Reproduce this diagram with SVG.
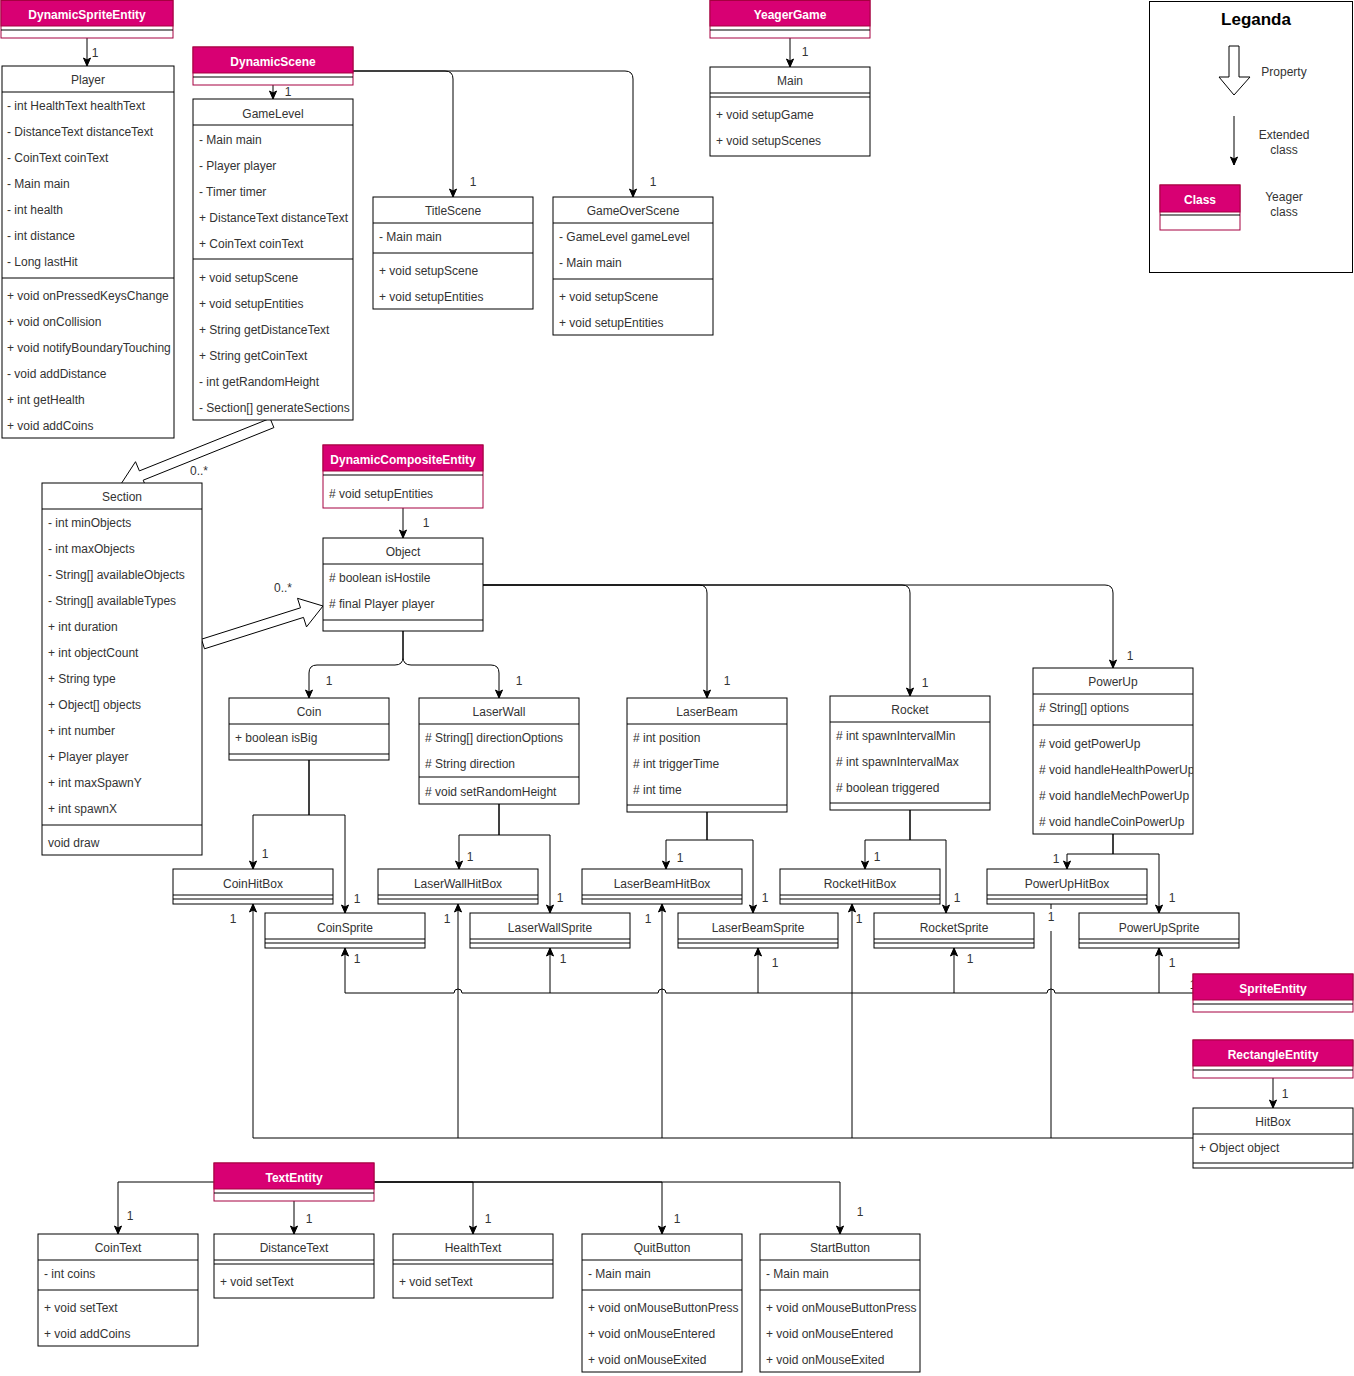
<svg xmlns="http://www.w3.org/2000/svg" width="1354" height="1376" viewBox="0 0 1354 1376">
<style>
.b{fill:#fff;stroke:#000;stroke-width:1}
.s{stroke:#000;stroke-width:1;fill:none}
.pk{fill:#d80073;stroke:#a50040;stroke-width:1}
.pb{fill:#fff;stroke:#a50040;stroke-width:1}
.t{font-family:"Liberation Sans",Arial,sans-serif;font-size:12px;fill:#333}
text{transform:translate(0px,1px)}
.c{text-anchor:middle}
.w{fill:#fff;font-weight:bold}
.e{stroke:#000;stroke-width:1;fill:none;marker-end:url(#a)}
.l{stroke:#000;stroke-width:1;fill:none}
.fa{fill:#fff;stroke:#000;stroke-width:1}
</style>
<defs>
<marker id="a" markerUnits="userSpaceOnUse" markerWidth="10" markerHeight="10" viewBox="0 0 10 10" refX="9" refY="5" orient="auto">
<path d="M1,1.5 L9,5 L1,8.5 L3,5 z" fill="#000" stroke="#000" stroke-width="1"/>
</marker>
<clipPath id="cpPU"><rect x="1033" y="668" width="160" height="166"/></clipPath>
<clipPath id="cpQB"><rect x="582" y="1234" width="160" height="138"/></clipPath>
<clipPath id="cpSB"><rect x="760" y="1234" width="160" height="138"/></clipPath>
</defs>
<rect width="1354" height="1376" fill="#fff"/>

<g id="connectors">
<path class="e" d="M87,38 V66"/>
<path class="e" d="M273,85 V99"/>
<path class="e" d="M353,71 H445 Q453,71 453,79 V197"/>
<path class="e" d="M353,71 H625 Q633,71 633,79 V197"/>
<path class="e" d="M790,38 V67"/>
<path class="e" d="M403,508 V538"/>
<path class="e" d="M403,631 V657 Q403,665 395,665 H317 Q309,665 309,673 V698"/>
<path class="e" d="M403,631 V657 Q403,665 411,665 H491 Q499,665 499,673 V698"/>
<path class="e" d="M483,585 H699 Q707,585 707,593 V698"/>
<path class="e" d="M483,585 H902 Q910,585 910,593 V696"/>
<path class="e" d="M483,585 H1105 Q1113,585 1113,593 V668"/>
<path class="e" d="M309,760 V815 H253 V869"/>
<path class="e" d="M309,760 V815 H345 V913"/>
<path class="e" d="M499,804 V835 H459 V869"/>
<path class="e" d="M499,804 V835 H550 V913"/>
<path class="e" d="M707,812 V840 H666 V869"/>
<path class="e" d="M707,812 V840 H753 V913"/>
<path class="e" d="M910,810 V840 H865 V869"/>
<path class="e" d="M910,810 V840 H946 V913"/>
<path class="e" d="M1113,834 V854 H1067 V869"/>
<path class="e" d="M1113,834 V854 H1159 V913"/>
<path class="e" d="M1193,1138 H253 V904"/>
<path class="e" d="M458,1138 V904"/>
<path class="e" d="M662,1138 V904"/>
<path class="e" d="M852,1138 V904"/>
<path class="l" d="M1051,1138 V904"/>
<path class="e" d="M1193,993 H1055 a4,4 0 0 0 -8,0 H666 a4,4 0 0 0 -8,0 H462 a4,4 0 0 0 -8,0 H345 V948"/>
<path class="e" d="M550,993 V948"/>
<path class="e" d="M758,993 V948"/>
<path class="e" d="M954,993 V948"/>
<path class="e" d="M1159,993 V948"/>
<path class="e" d="M1273,1078 V1108"/>
<path class="e" d="M214,1182 H118 V1234"/>
<path class="e" d="M294,1201 V1234"/>
<path class="e" d="M374,1182 H473 V1234"/>
<path class="e" d="M374,1182 H662 V1234"/>
<path class="e" d="M374,1182 H840 V1234"/>
<polygon class="fa" points="273.9,427.6 143.2,480.2 147.1,489.4 121,484 135.5,461.7 139.4,470.9 270.1,418.4"/>
<polygon class="fa" points="204.5,648.8 303.5,617.4 306.5,626.9 323,606 297.5,598.3 300.5,607.8 201.5,639.2"/>
</g>

<g id="labels" class="t c">
<text x="95" y="56">1</text>
<text x="288" y="95">1</text>
<text x="473" y="185">1</text>
<text x="653" y="185">1</text>
<text x="805" y="55">1</text>
<text x="426" y="526">1</text>
<text x="329" y="684">1</text>
<text x="519" y="684">1</text>
<text x="727" y="684">1</text>
<text x="925" y="686">1</text>
<text x="1130" y="659">1</text>
<text x="265" y="857">1</text>
<text x="357" y="902">1</text>
<text x="470" y="860">1</text>
<text x="560" y="901">1</text>
<text x="680" y="861">1</text>
<text x="765" y="901">1</text>
<text x="877" y="860">1</text>
<text x="957" y="901">1</text>
<text x="1056" y="862">1</text>
<text x="1172" y="901">1</text>
<text x="357" y="962">1</text>
<text x="563" y="962">1</text>
<text x="775" y="966">1</text>
<text x="970" y="962">1</text>
<text x="1172" y="966">1</text>
<text x="1193" y="988">1</text>
<text x="233" y="922">1</text>
<text x="447" y="922">1</text>
<text x="648" y="922">1</text>
<text x="859" y="922">1</text>
<rect x="1045" y="909" width="12" height="22" fill="#fff"/>
<text x="1051" y="920">1</text>
<text x="1285" y="1097">1</text>
<text x="130" y="1219">1</text>
<text x="309" y="1222">1</text>
<text x="488" y="1222">1</text>
<text x="677" y="1222">1</text>
<text x="860" y="1215">1</text>
<text x="199" y="474">0..*</text>
<text x="283" y="591">0..*</text>
</g>

<g id="DynamicSpriteEntity">
<rect class="pb" x="1" y="0.5" width="172" height="37.5"/>
<rect class="pk" x="1" y="0.5" width="172" height="25.5"/>
<line class="s" x1="1" y1="30" x2="173" y2="30"/>
<text class="t c w" x="87" y="18">DynamicSpriteEntity</text>
</g>

<g id="Player">
<rect class="b" x="2" y="66" width="172" height="372"/>
<line class="s" x1="2" y1="92" x2="174" y2="92"/>
<line class="s" x1="2" y1="278" x2="174" y2="278"/>
<text class="t c" x="88" y="83">Player</text>
<g class="t">
<text x="7" y="109">- int HealthText healthText</text>
<text x="7" y="135">- DistanceText distanceText</text>
<text x="7" y="161">- CoinText coinText</text>
<text x="7" y="187">- Main main</text>
<text x="7" y="213">- int health</text>
<text x="7" y="239">- int distance</text>
<text x="7" y="265">- Long lastHit</text>
<text x="7" y="299">+ void onPressedKeysChange</text>
<text x="7" y="325">+ void onCollision</text>
<text x="7" y="351">+ void notifyBoundaryTouching</text>
<text x="7" y="377">- void addDistance</text>
<text x="7" y="403">+ int getHealth</text>
<text x="7" y="429">+ void addCoins</text>
</g>
</g>

<g id="DynamicScene">
<rect class="pb" x="193" y="47" width="160" height="38"/>
<rect class="pk" x="193" y="47" width="160" height="26"/>
<line class="s" x1="193" y1="77" x2="353" y2="77"/>
<text class="t c w" x="273" y="65">DynamicScene</text>
</g>

<g id="GameLevel">
<rect class="b" x="193" y="99" width="160" height="321"/>
<line class="s" x1="193" y1="125" x2="353" y2="125"/>
<line class="s" x1="193" y1="259" x2="353" y2="259"/>
<text class="t c" x="273" y="117">GameLevel</text>
<g class="t">
<text x="199" y="143">- Main main</text>
<text x="199" y="169">- Player player</text>
<text x="199" y="195">- Timer timer</text>
<text x="199" y="221">+ DistanceText distanceText</text>
<text x="199" y="247">+ CoinText coinText</text>
<text x="199" y="281">+ void setupScene</text>
<text x="199" y="307">+ void setupEntities</text>
<text x="199" y="333">+ String getDistanceText</text>
<text x="199" y="359">+ String getCoinText</text>
<text x="199" y="385">- int getRandomHeight</text>
<text x="199" y="411">- Section[] generateSections</text>
</g>
</g>

<g id="TitleScene">
<rect class="b" x="373" y="197" width="160" height="112"/>
<line class="s" x1="373" y1="223" x2="533" y2="223"/>
<line class="s" x1="373" y1="253" x2="533" y2="253"/>
<text class="t c" x="453" y="214">TitleScene</text>
<g class="t">
<text x="379" y="240">- Main main</text>
<text x="379" y="274">+ void setupScene</text>
<text x="379" y="300">+ void setupEntities</text>
</g>
</g>

<g id="GameOverScene">
<rect class="b" x="553" y="197" width="160" height="138"/>
<line class="s" x1="553" y1="223" x2="713" y2="223"/>
<line class="s" x1="553" y1="279" x2="713" y2="279"/>
<text class="t c" x="633" y="214">GameOverScene</text>
<g class="t">
<text x="559" y="240">- GameLevel gameLevel</text>
<text x="559" y="266">- Main main</text>
<text x="559" y="300">+ void setupScene</text>
<text x="559" y="326">+ void setupEntities</text>
</g>
</g>

<g id="YeagerGame">
<rect class="pb" x="710" y="0.5" width="160" height="37.5"/>
<rect class="pk" x="710" y="0.5" width="160" height="25.5"/>
<line class="s" x1="710" y1="30" x2="870" y2="30"/>
<text class="t c w" x="790" y="18">YeagerGame</text>
</g>

<g id="Main">
<rect class="b" x="710" y="67" width="160" height="89"/>
<line class="s" x1="710" y1="93" x2="870" y2="93"/>
<line class="s" x1="710" y1="97" x2="870" y2="97"/>
<text class="t c" x="790" y="84">Main</text>
<g class="t">
<text x="716" y="118">+ void setupGame</text>
<text x="716" y="144">+ void setupScenes</text>
</g>
</g>

<g id="Legend">
<rect class="b" x="1149.5" y="1.5" width="203" height="271"/>
<text class="t c" x="1256" y="24" style="font-size:17px;font-weight:bold;fill:#000">Leganda</text>
<polygon class="fa" points="1229,46 1239,46 1239,77 1250,77 1234,95 1219,77 1229,77"/>
<text class="t c" x="1284" y="75">Property</text>
<path class="e" d="M1234,116 V165"/>
<text class="t c" x="1284" y="138">Extended</text>
<text class="t c" x="1284" y="153">class</text>
<rect class="pb" x="1160" y="185" width="80" height="45"/>
<rect class="pk" x="1160" y="185" width="80" height="27"/>
<line class="s" x1="1160" y1="215" x2="1240" y2="215"/>
<text class="t c w" x="1200" y="203">Class</text>
<text class="t c" x="1284" y="200">Yeager</text>
<text class="t c" x="1284" y="215">class</text>
</g>

<g id="DynamicCompositeEntity">
<rect class="pb" x="323" y="445" width="160" height="63"/>
<rect class="pk" x="323" y="445" width="160" height="26"/>
<line class="s" x1="323" y1="475" x2="483" y2="475"/>
<text class="t c w" x="403" y="463">DynamicCompositeEntity</text>
<text class="t" x="329" y="497"># void setupEntities</text>
</g>

<g id="Object">
<rect class="b" x="323" y="538" width="160" height="93"/>
<line class="s" x1="323" y1="564" x2="483" y2="564"/>
<line class="s" x1="323" y1="620" x2="483" y2="620"/>
<text class="t c" x="403" y="555">Object</text>
<g class="t">
<text x="329" y="581"># boolean isHostile</text>
<text x="329" y="607"># final Player player</text>
</g>
</g>

<g id="Section">
<rect class="b" x="42" y="483" width="160" height="372"/>
<line class="s" x1="42" y1="509" x2="202" y2="509"/>
<line class="s" x1="42" y1="825" x2="202" y2="825"/>
<text class="t c" x="122" y="500">Section</text>
<g class="t">
<text x="48" y="526">- int minObjects</text>
<text x="48" y="552">- int maxObjects</text>
<text x="48" y="578">- String[] availableObjects</text>
<text x="48" y="604">- String[] availableTypes</text>
<text x="48" y="630">+ int duration</text>
<text x="48" y="656">+ int objectCount</text>
<text x="48" y="682">+ String type</text>
<text x="48" y="708">+ Object[] objects</text>
<text x="48" y="734">+ int number</text>
<text x="48" y="760">+ Player player</text>
<text x="48" y="786">+ int maxSpawnY</text>
<text x="48" y="812">+ int spawnX</text>
<text x="48" y="846">void draw</text>
</g>
</g>

<g id="Coin">
<rect class="b" x="229" y="698" width="160" height="62"/>
<line class="s" x1="229" y1="724" x2="389" y2="724"/>
<line class="s" x1="229" y1="754" x2="389" y2="754"/>
<text class="t c" x="309" y="715">Coin</text>
<text class="t" x="235" y="741">+ boolean isBig</text>
</g>

<g id="LaserWall">
<rect class="b" x="419" y="698" width="160" height="106"/>
<line class="s" x1="419" y1="724" x2="579" y2="724"/>
<line class="s" x1="419" y1="777" x2="579" y2="777"/>
<text class="t c" x="499" y="715">LaserWall</text>
<g class="t">
<text x="425" y="741"># String[] directionOptions</text>
<text x="425" y="767"># String direction</text>
<text x="425" y="795"># void setRandomHeight</text>
</g>
</g>

<g id="LaserBeam">
<rect class="b" x="627" y="698" width="160" height="114"/>
<line class="s" x1="627" y1="724" x2="787" y2="724"/>
<line class="s" x1="627" y1="805" x2="787" y2="805"/>
<text class="t c" x="707" y="715">LaserBeam</text>
<g class="t">
<text x="633" y="741"># int position</text>
<text x="633" y="767"># int triggerTime</text>
<text x="633" y="793"># int time</text>
</g>
</g>

<g id="Rocket">
<rect class="b" x="830" y="696" width="160" height="114"/>
<line class="s" x1="830" y1="722" x2="990" y2="722"/>
<line class="s" x1="830" y1="803" x2="990" y2="803"/>
<text class="t c" x="910" y="713">Rocket</text>
<g class="t">
<text x="836" y="739"># int spawnIntervalMin</text>
<text x="836" y="765"># int spawnIntervalMax</text>
<text x="836" y="791"># boolean triggered</text>
</g>
</g>

<g id="PowerUp">
<rect class="b" x="1033" y="668" width="160" height="166"/>
<line class="s" x1="1033" y1="694" x2="1193" y2="694"/>
<line class="s" x1="1033" y1="725" x2="1193" y2="725"/>
<text class="t c" x="1113" y="685">PowerUp</text>
<g class="t" clip-path="url(#cpPU)">
<text x="1039" y="711"># String[] options</text>
<text x="1039" y="747"># void getPowerUp</text>
<text x="1039" y="773"># void handleHealthPowerUp</text>
<text x="1039" y="799"># void handleMechPowerUp</text>
<text x="1039" y="825"># void handleCoinPowerUp</text>
</g>
</g>

<g id="CoinHitBox">
<rect class="b" x="173" y="869" width="160" height="35"/>
<line class="s" x1="173" y1="895" x2="333" y2="895"/>
<line class="s" x1="173" y1="899" x2="333" y2="899"/>
<text class="t c" x="253" y="887">CoinHitBox</text>
</g>
<g id="CoinSprite">
<rect class="b" x="265" y="913" width="160" height="35"/>
<line class="s" x1="265" y1="939" x2="425" y2="939"/>
<line class="s" x1="265" y1="943" x2="425" y2="943"/>
<text class="t c" x="345" y="931">CoinSprite</text>
</g>
<g id="LaserWallHitBox">
<rect class="b" x="378" y="869" width="160" height="35"/>
<line class="s" x1="378" y1="895" x2="538" y2="895"/>
<line class="s" x1="378" y1="899" x2="538" y2="899"/>
<text class="t c" x="458" y="887">LaserWallHitBox</text>
</g>
<g id="LaserWallSprite">
<rect class="b" x="470" y="913" width="160" height="35"/>
<line class="s" x1="470" y1="939" x2="630" y2="939"/>
<line class="s" x1="470" y1="943" x2="630" y2="943"/>
<text class="t c" x="550" y="931">LaserWallSprite</text>
</g>
<g id="LaserBeamHitBox">
<rect class="b" x="582" y="869" width="160" height="35"/>
<line class="s" x1="582" y1="895" x2="742" y2="895"/>
<line class="s" x1="582" y1="899" x2="742" y2="899"/>
<text class="t c" x="662" y="887">LaserBeamHitBox</text>
</g>
<g id="LaserBeamSprite">
<rect class="b" x="678" y="913" width="160" height="35"/>
<line class="s" x1="678" y1="939" x2="838" y2="939"/>
<line class="s" x1="678" y1="943" x2="838" y2="943"/>
<text class="t c" x="758" y="931">LaserBeamSprite</text>
</g>
<g id="RocketHitBox">
<rect class="b" x="780" y="869" width="160" height="35"/>
<line class="s" x1="780" y1="895" x2="940" y2="895"/>
<line class="s" x1="780" y1="899" x2="940" y2="899"/>
<text class="t c" x="860" y="887">RocketHitBox</text>
</g>
<g id="RocketSprite">
<rect class="b" x="874" y="913" width="160" height="35"/>
<line class="s" x1="874" y1="939" x2="1034" y2="939"/>
<line class="s" x1="874" y1="943" x2="1034" y2="943"/>
<text class="t c" x="954" y="931">RocketSprite</text>
</g>
<g id="PowerUpHitBox">
<rect class="b" x="987" y="869" width="160" height="35"/>
<line class="s" x1="987" y1="895" x2="1147" y2="895"/>
<line class="s" x1="987" y1="899" x2="1147" y2="899"/>
<text class="t c" x="1067" y="887">PowerUpHitBox</text>
</g>
<g id="PowerUpSprite">
<rect class="b" x="1079" y="913" width="160" height="35"/>
<line class="s" x1="1079" y1="939" x2="1239" y2="939"/>
<line class="s" x1="1079" y1="943" x2="1239" y2="943"/>
<text class="t c" x="1159" y="931">PowerUpSprite</text>
</g>

<g id="SpriteEntity">
<rect class="pb" x="1193" y="974" width="160" height="38"/>
<rect class="pk" x="1193" y="974" width="160" height="26"/>
<line class="s" x1="1193" y1="1004" x2="1353" y2="1004"/>
<text class="t c w" x="1273" y="992">SpriteEntity</text>
</g>

<g id="RectangleEntity">
<rect class="pb" x="1193" y="1040" width="160" height="38"/>
<rect class="pk" x="1193" y="1040" width="160" height="26"/>
<line class="s" x1="1193" y1="1070" x2="1353" y2="1070"/>
<text class="t c w" x="1273" y="1058">RectangleEntity</text>
</g>

<g id="HitBox">
<rect class="b" x="1193" y="1108" width="160" height="60"/>
<line class="s" x1="1193" y1="1134" x2="1353" y2="1134"/>
<line class="s" x1="1193" y1="1163" x2="1353" y2="1163"/>
<text class="t c" x="1273" y="1125">HitBox</text>
<text class="t" x="1199" y="1151">+ Object object</text>
</g>

<g id="TextEntity">
<rect class="pb" x="214" y="1163" width="160" height="38"/>
<rect class="pk" x="214" y="1163" width="160" height="26"/>
<line class="s" x1="214" y1="1193" x2="374" y2="1193"/>
<text class="t c w" x="294" y="1181">TextEntity</text>
</g>

<g id="CoinText">
<rect class="b" x="38" y="1234" width="160" height="112"/>
<line class="s" x1="38" y1="1260" x2="198" y2="1260"/>
<line class="s" x1="38" y1="1290" x2="198" y2="1290"/>
<text class="t c" x="118" y="1251">CoinText</text>
<g class="t">
<text x="44" y="1277">- int coins</text>
<text x="44" y="1311">+ void setText</text>
<text x="44" y="1337">+ void addCoins</text>
</g>
</g>

<g id="DistanceText">
<rect class="b" x="214" y="1234" width="160" height="64"/>
<line class="s" x1="214" y1="1260" x2="374" y2="1260"/>
<line class="s" x1="214" y1="1264" x2="374" y2="1264"/>
<text class="t c" x="294" y="1251">DistanceText</text>
<text class="t" x="220" y="1285">+ void setText</text>
</g>

<g id="HealthText">
<rect class="b" x="393" y="1234" width="160" height="64"/>
<line class="s" x1="393" y1="1260" x2="553" y2="1260"/>
<line class="s" x1="393" y1="1264" x2="553" y2="1264"/>
<text class="t c" x="473" y="1251">HealthText</text>
<text class="t" x="399" y="1285">+ void setText</text>
</g>

<g id="QuitButton">
<rect class="b" x="582" y="1234" width="160" height="138"/>
<line class="s" x1="582" y1="1260" x2="742" y2="1260"/>
<line class="s" x1="582" y1="1290" x2="742" y2="1290"/>
<text class="t c" x="662" y="1251">QuitButton</text>
<g class="t" clip-path="url(#cpQB)">
<text x="588" y="1277">- Main main</text>
<text x="588" y="1311">+ void onMouseButtonPress</text>
<text x="588" y="1337">+ void onMouseEntered</text>
<text x="588" y="1363">+ void onMouseExited</text>
</g>
</g>

<g id="StartButton">
<rect class="b" x="760" y="1234" width="160" height="138"/>
<line class="s" x1="760" y1="1260" x2="920" y2="1260"/>
<line class="s" x1="760" y1="1290" x2="920" y2="1290"/>
<text class="t c" x="840" y="1251">StartButton</text>
<g class="t" clip-path="url(#cpSB)">
<text x="766" y="1277">- Main main</text>
<text x="766" y="1311">+ void onMouseButtonPress</text>
<text x="766" y="1337">+ void onMouseEntered</text>
<text x="766" y="1363">+ void onMouseExited</text>
</g>
</g>
</svg>
